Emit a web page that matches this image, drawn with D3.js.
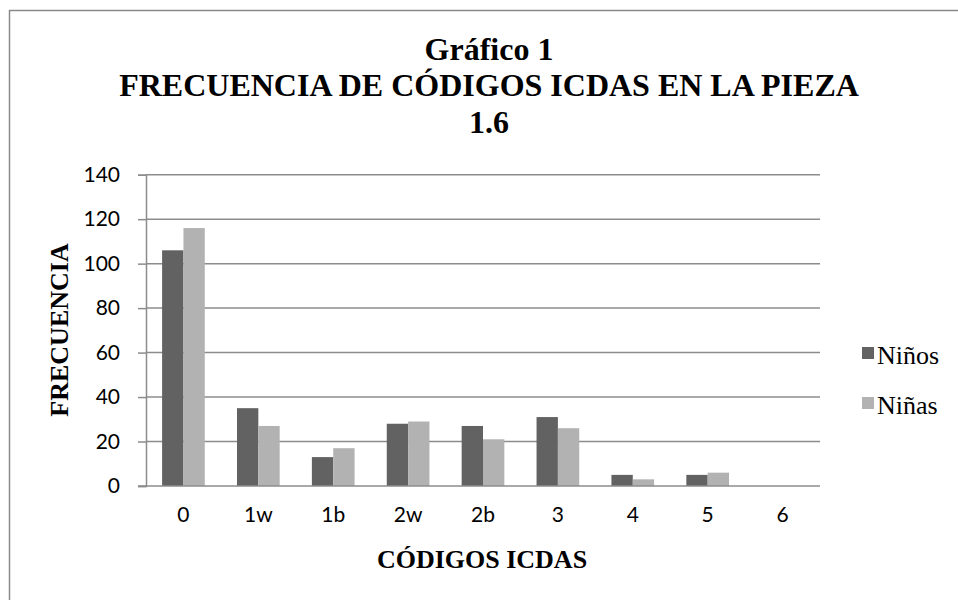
<!DOCTYPE html>
<html lang="es">

<head>
    <meta charset="utf-8">
    <title>Gráfico 1</title>
    <script src="https://d3js.org/d3.v7.min.js"></script>
    <style>
        body {
            margin: 0;
            padding: 0;
            overflow: hidden;
            background: #fff;
        }
    </style>
</head>

<body>

    <svg id="chart"></svg>

    <script>
        // data
        const categories = ["0", "1w", "1b", "2w", "2b", "3", "4", "5", "6"];
        const seriesNames = ["Niños", "Niñas"];
        const ninos = [106, 35, 13, 28, 27, 31, 5, 5, 0];
        const ninas = [116, 27, 17, 29, 21, 26, 3, 6, 0];
        const yTicks = [0, 20, 40, 60, 80, 100, 120, 140];
        const titleLines = ["Gráfico 1", "FRECUENCIA DE CÓDIGOS ICDAS EN LA PIEZA", "1.6"];

        const colors = ["#626262", "#b2b2b2"];
        const width = 958;
        const height = 600;
        const serif = "'Liberation Serif', 'Times New Roman', serif";
        const sans = "Lato, 'Open Sans', sans-serif";

        const svg = d3.select("#chart")
            .attr("width", width)
            .attr("height", height);

        // outer chart frame (only left/top visible in the crop)
        svg.append("rect")
            .attr("x", 9.5)
            .attr("y", 10.5)
            .attr("width", width + 20)
            .attr("height", height + 20)
            .attr("fill", "none")
            .attr("stroke", "#8a8a8a")
            .attr("stroke-width", 1.5);

        const plotLeft = 146, plotRight = 820, plotTop = 174.7, plotBottom = 486;

        const y = d3.scaleLinear()
            .domain([0, 140])
            .range([plotBottom, plotTop]);

        const x0 = d3.scaleBand()
            .domain(categories)
            .range([plotLeft, plotRight])
            .paddingInner(0.43)
            .paddingOuter(0.215);

        const x1 = d3.scaleBand()
            .domain(seriesNames)
            .range([0, x0.bandwidth()]);

        // gridlines
        svg.append("g")
            .selectAll("line")
            .data(yTicks.filter(d => d > 0))
            .join("line")
            .attr("x1", plotLeft)
            .attr("x2", plotRight)
            .attr("y1", d => y(d))
            .attr("y2", d => y(d))
            .attr("stroke", "#8c8c8c")
            .attr("stroke-width", 1.5);

        // bars
        const rows = categories.map((c, i) => ({ cat: c, values: [ninos[i], ninas[i]] }));

        svg.append("g")
            .selectAll("g")
            .data(rows)
            .join("g")
            .attr("transform", d => `translate(${x0(d.cat)},0)`)
            .selectAll("rect")
            .data(d => d.values.map((v, j) => ({ key: seriesNames[j], value: v, idx: j })))
            .join("rect")
            .attr("x", d => x1(d.key))
            .attr("y", d => y(d.value))
            .attr("width", x1.bandwidth())
            .attr("height", d => plotBottom - y(d.value))
            .attr("fill", d => colors[d.idx]);

        // y axis
        const yAxis = svg.append("g")
            .attr("transform", `translate(${plotLeft},0)`)
            .call(d3.axisLeft(y).tickValues(yTicks).tickSize(8).tickPadding(18));
        yAxis.select(".domain").attr("stroke", "#8c8c8c").attr("stroke-width", 1.5);
        yAxis.selectAll(".tick line").attr("stroke", "#8c8c8c").attr("stroke-width", 1.5);
        yAxis.selectAll("text")
            .attr("font-family", sans)
            .attr("font-size", 21)
            .attr("fill", "#000");

        // x axis
        const xAxis = svg.append("g")
            .attr("transform", `translate(0,${plotBottom})`)
            .call(d3.axisBottom(x0).tickSize(0).tickPadding(21));
        xAxis.select(".domain").remove();
        xAxis.selectAll("text")
            .attr("font-family", sans)
            .attr("font-size", 21)
            .attr("fill", "#000");

        svg.append("line")
            .attr("x1", 138)
            .attr("x2", plotRight)
            .attr("y1", plotBottom)
            .attr("y2", plotBottom)
            .attr("stroke", "#8c8c8c")
            .attr("stroke-width", 1.5);

        // title
        svg.append("g")
            .selectAll("text")
            .data(titleLines)
            .join("text")
            .attr("x", 489)
            .attr("y", (d, i) => [60, 96, 133][i])
            .attr("text-anchor", "middle")
            .attr("font-family", serif)
            .attr("font-weight", "bold")
            .attr("font-size", 32)
            .text(d => d);

        // axis titles
        svg.append("text")
            .attr("transform", "translate(68,330) rotate(-90)")
            .attr("text-anchor", "middle")
            .attr("font-family", serif)
            .attr("font-weight", "bold")
            .attr("font-size", 26)
            .text("FRECUENCIA");

        svg.append("text")
            .attr("x", 482)
            .attr("y", 568)
            .attr("text-anchor", "middle")
            .attr("font-family", serif)
            .attr("font-weight", "bold")
            .attr("font-size", 26)
            .text("CÓDIGOS ICDAS");

        // legend
        const legend = svg.append("g")
            .selectAll("g")
            .data(seriesNames)
            .join("g")
            .attr("transform", (d, i) => `translate(862,${347 + i * 50})`);

        legend.append("rect")
            .attr("width", 12)
            .attr("height", 12)
            .attr("fill", (d, i) => colors[i]);

        legend.append("text")
            .attr("x", 15)
            .attr("y", 17)
            .attr("font-family", serif)
            .attr("font-size", 26)
            .text(d => d);
    </script>
</body>

</html>
